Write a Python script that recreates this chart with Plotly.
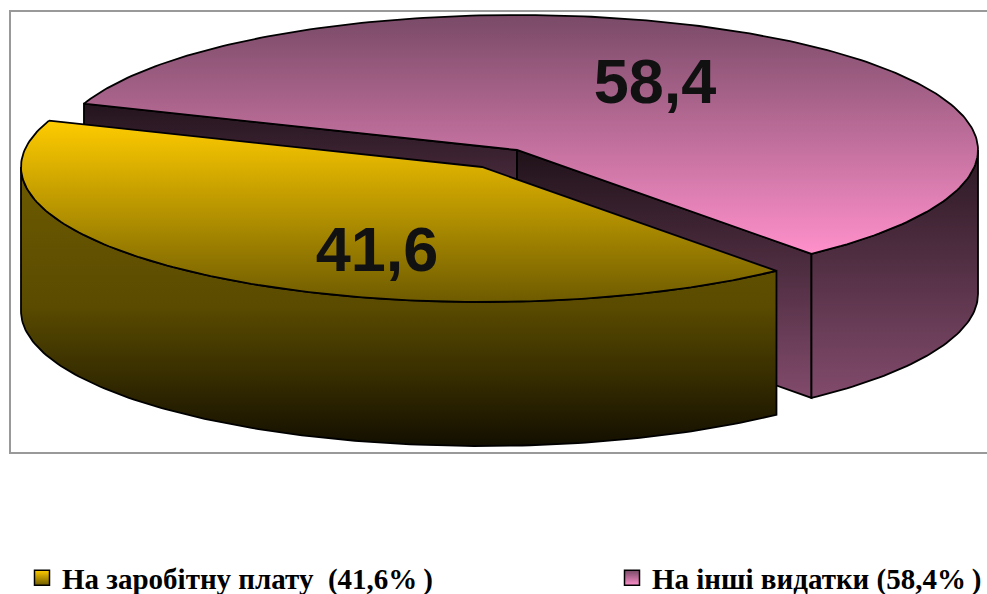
"""Exploded 3D-style pie of budget shares, drawn on pixel-like cartesian axes."""

import numpy as np
import plotly.graph_objects as go

categories = ["На заробітну плату", "На інші видатки"]
values = [41.6, 58.4]
value_labels = ["41,6", "58,4"]
legend_labels = [
    "На заробітну плату \u00a0(41,6%\u2009)",
    "На інші видатки (58,4%\u2009)",
]

# projection of the pie on the page
RX, RY = 461, 135
DEPTH = 144
PINK_CENTER = (517, 150)
YELLOW_CENTER = (482, 167)
PINK_START = -50.3  # degrees, pink slice runs counter-clockwise from here

PAGE_W, PAGE_H = 987, 594


def rim(center, t0, t1, dy=0):
    t = np.radians(np.arange(t0, t1, 1.0).tolist() + [t1])
    return center[0] + RX * np.cos(t), center[1] - RY * np.sin(t) + dy


def add_face(fig, x, y, colors):
    # colors run top to bottom, plotly's vertical gradient runs the other way here
    stops = np.linspace(0, 1, len(colors))
    fig.add_trace(go.Scatter(
        x=np.append(x, x[0]),
        y=np.append(y, y[0]),
        mode="lines",
        line=dict(color="#000000", width=1.8),
        fill="toself",
        fillgradient=dict(
            type="vertical",
            colorscale=[[float(s), c] for s, c in zip(stops, colors[::-1])],
        ),
        hoverinfo="skip",
        showlegend=False,
    ))


def wall(center, t0, t1):
    top_x, top_y = rim(center, t0, t1)
    low_x, low_y = rim(center, t0, t1, DEPTH)
    return np.concatenate([top_x, low_x[::-1]]), np.concatenate([top_y, low_y[::-1]])


def radial(center, t):
    ex, ey = rim(center, t, t)
    ex, ey = ex[0], ey[0]
    cx, cy = center
    return np.array([cx, ex, ex, cx]), np.array([cy, ey, ey + DEPTH, cy + DEPTH])


pink_sweep = values[1] / sum(values) * 360
pink_end = PINK_START + pink_sweep
yellow_end = PINK_START + 360

fig = go.Figure()

# pink slice, back to front
add_face(fig, *radial(PINK_CENTER, pink_end), ("#23141d", "#7d4968"))
add_face(fig, *radial(PINK_CENTER, PINK_START), ("#1f1219", "#824b6c"))
add_face(fig, *wall(PINK_CENTER, PINK_START, 0), ("#2a1822", "#824b6c"))
px, py = rim(PINK_CENTER, PINK_START, pink_end)
add_face(fig, np.append(px, PINK_CENTER[0]), np.append(py, PINK_CENTER[1]), ("#794a67", "#ff90cb"))

# yellow slice
add_face(fig, *wall(YELLOW_CENTER, 180, yellow_end), ("#6e5b00", "#5a4b00", "#130f00"))
yx, yy = rim(YELLOW_CENTER, pink_end, yellow_end)
add_face(fig, np.append(yx, YELLOW_CENTER[0]), np.append(yy, YELLOW_CENTER[1]), ("#ffcc00", "#6e5b00"))

# value labels
fig.add_trace(go.Scatter(
    x=[377, 655],
    y=[255, 87],
    mode="text",
    text=value_labels,
    textposition="middle center",
    textfont=dict(family="Liberation Sans", size=63, color="#111111", weight="bold"),
    hoverinfo="skip",
    showlegend=False,
))

# legend entries, one legend each so they can sit far apart
swatches = [("#ffcc00", "#6e5b00"), ("#794a67", "#ff90cb")]
for i, (label, (c0, c1)) in enumerate(zip(legend_labels, swatches)):
    fig.add_trace(go.Scatter(
        x=[None],
        y=[None],
        mode="markers",
        name=label,
        legend="legend" if i == 0 else "legend2",
        marker=dict(
            symbol="square",
            size=15,
            color=c0,
            gradient=dict(type="vertical", color=c1),
            line=dict(color="#000000", width=1.5),
        ),
    ))

legend_style = dict(
    orientation="h",
    xanchor="left",
    y=1 - 578 / PAGE_H,
    yanchor="middle",
    itemclick=False,
    itemdoubleclick=False,
    font=dict(family="Liberation Serif", size=29, color="#000000", weight="bold"),
)

fig.update_layout(
    width=PAGE_W,
    height=PAGE_H,
    margin=dict(l=0, r=0, t=0, b=0, autoexpand=False),
    paper_bgcolor="white",
    plot_bgcolor="white",
    xaxis=dict(range=[0, PAGE_W], visible=False, fixedrange=True),
    yaxis=dict(range=[PAGE_H, 0], visible=False, fixedrange=True),
    shapes=[dict(
        type="rect", xref="x", yref="y", x0=10, x1=1000, y0=11, y1=453,
        line=dict(color="#999999", width=2), layer="below",
    )],
    legend=dict(x=22 / PAGE_W, **legend_style),
    legend2=dict(x=612 / PAGE_W, **legend_style),
)

# drop the default body margin so the figure fills the window
fig.write_html(
    "out.html",
    config={"displayModeBar": False},
    post_script="document.body.style.margin='0';",
)
